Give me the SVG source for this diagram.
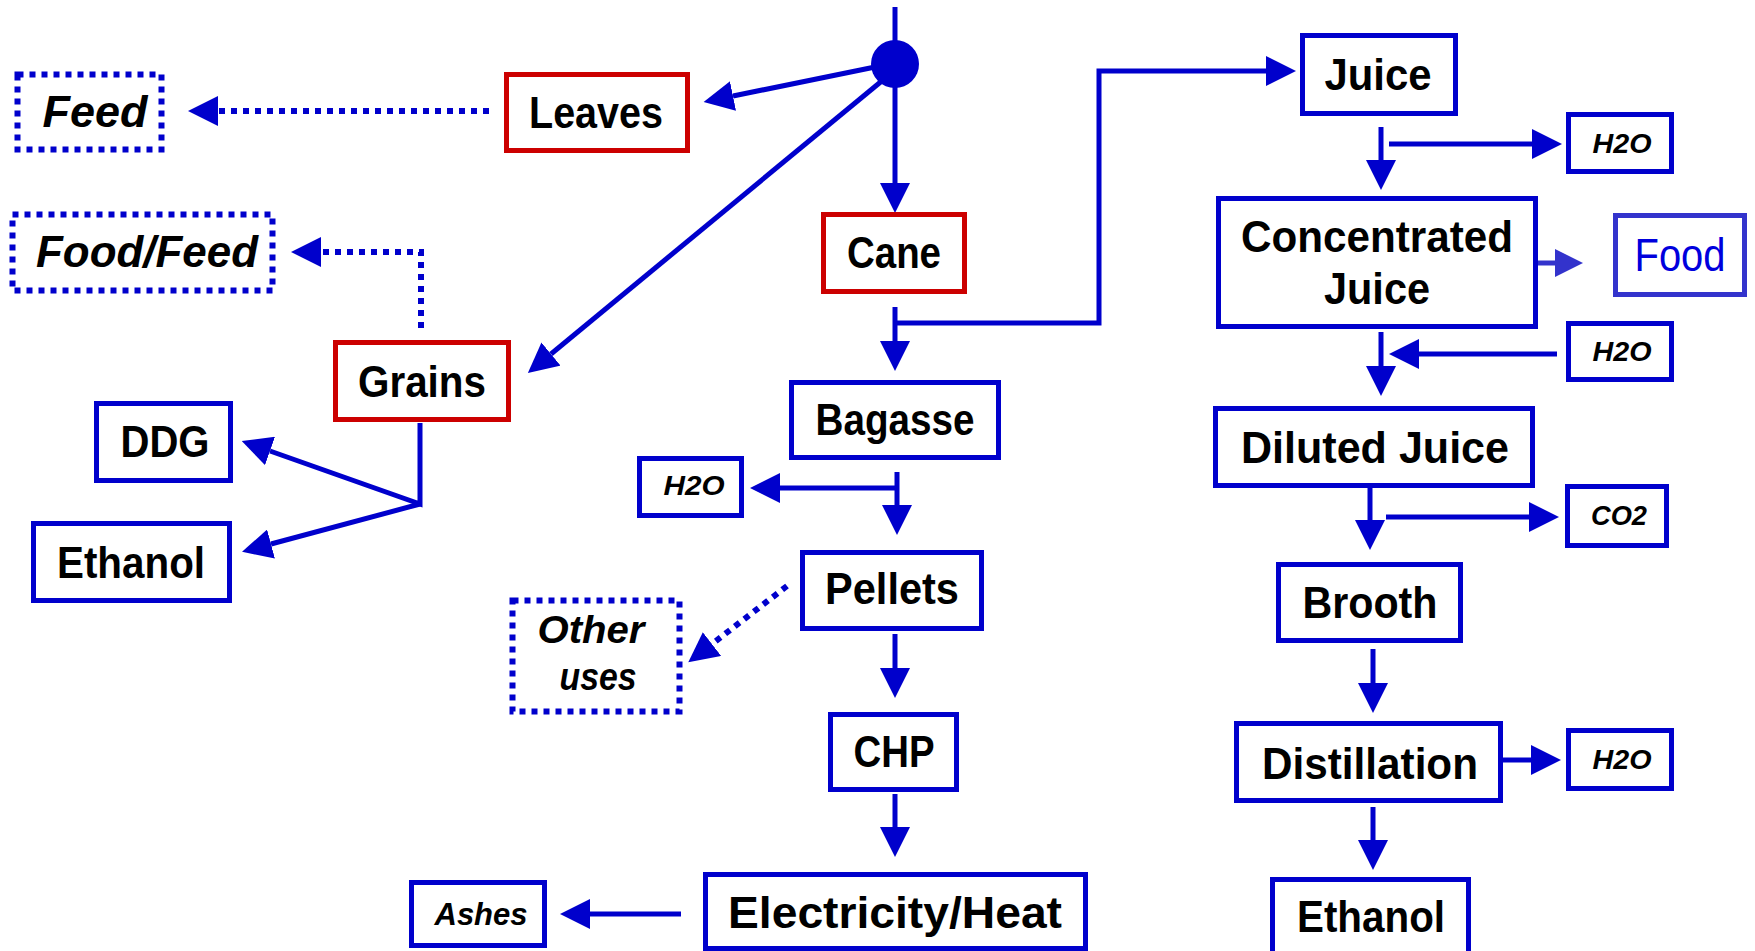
<svg xmlns="http://www.w3.org/2000/svg" width="1755" height="951" viewBox="0 0 1755 951">
<style>
.bg{fill:#ffffff}
.box{fill:#ffffff;stroke:#0000cc;stroke-width:5}
.red{stroke:#cc0000}
.dbox{stroke-dasharray:6 6;stroke-width:6}
.food{stroke:#3333cc}
.t{font-family:"Liberation Sans",Arial,sans-serif;font-weight:bold;font-size:44px;fill:#000000;text-anchor:middle}
.it{font-style:italic}
.sm{font-size:28px}
.md{font-size:38px}
.ft{font-weight:normal;fill:#0000dd;font-size:46px}
.c{fill:none;stroke:#0000cc;stroke-width:5}
.cd{fill:none;stroke:#0000cc;stroke-width:6;stroke-dasharray:6 6}
.cf{fill:none;stroke:#3333cc;stroke-width:5}
</style>
<defs>
<marker id="ah" viewBox="0 0 10 10" refX="0" refY="5" markerWidth="30" markerHeight="30" markerUnits="userSpaceOnUse" orient="auto"><path d="M0,0 L10,5 L0,10 Z" fill="#0000cc"/></marker>
<marker id="ahf" viewBox="0 0 10 10" refX="0" refY="5" markerWidth="28" markerHeight="28" markerUnits="userSpaceOnUse" orient="auto"><path d="M0,0 L10,5 L0,10 Z" fill="#3333cc"/></marker>
</defs>
<rect class="bg" x="0" y="0" width="1755" height="951"/>

<g id="connectors">
<line class="c" x1="895" y1="7" x2="895" y2="64"/>
<line class="c" x1="880" y1="66" x2="733" y2="96" marker-end="url(#ah)"/>
<line class="c" x1="883" y1="80" x2="551" y2="354" marker-end="url(#ah)"/>
<line class="c" x1="895" y1="64" x2="895" y2="183" marker-end="url(#ah)"/>
<line class="c" x1="895" y1="307" x2="895" y2="341" marker-end="url(#ah)"/>
<polyline class="c" points="895,323 1099,323 1099,71 1266,71" marker-end="url(#ah)"/>
<line class="cd" x1="489" y1="111" x2="218" y2="111" marker-end="url(#ah)"/>
<polyline class="cd" points="421,328 421,252 321,252" marker-end="url(#ah)"/>
<polyline class="c" points="420,423 420,504 270,451" marker-end="url(#ah)"/>
<line class="c" x1="420" y1="504" x2="271" y2="544" marker-end="url(#ah)"/>
<line class="c" x1="897" y1="472" x2="897" y2="505" marker-end="url(#ah)"/>
<line class="c" x1="897" y1="488" x2="780" y2="488" marker-end="url(#ah)"/>
<line class="cd" x1="787" y1="586" x2="712" y2="644" marker-end="url(#ah)"/>
<line class="c" x1="895" y1="634" x2="895" y2="668" marker-end="url(#ah)"/>
<line class="c" x1="895" y1="794" x2="895" y2="827" marker-end="url(#ah)"/>
<line class="c" x1="681" y1="914" x2="590" y2="914" marker-end="url(#ah)"/>
<line class="c" x1="1381" y1="127" x2="1381" y2="160" marker-end="url(#ah)"/>
<line class="c" x1="1389" y1="144" x2="1532" y2="144" marker-end="url(#ah)"/>
<line class="cf" x1="1537" y1="263" x2="1555" y2="263" marker-end="url(#ahf)"/>
<line class="c" x1="1381" y1="332" x2="1381" y2="366" marker-end="url(#ah)"/>
<line class="c" x1="1557" y1="354" x2="1419" y2="354" marker-end="url(#ah)"/>
<line class="c" x1="1370" y1="488" x2="1370" y2="520" marker-end="url(#ah)"/>
<line class="c" x1="1386" y1="517" x2="1529" y2="517" marker-end="url(#ah)"/>
<line class="c" x1="1373" y1="649" x2="1373" y2="683" marker-end="url(#ah)"/>
<line class="c" x1="1503" y1="760" x2="1531" y2="760" marker-end="url(#ah)"/>
<line class="c" x1="1373" y1="807" x2="1373" y2="840" marker-end="url(#ah)"/>
</g>

<g id="hub"><circle cx="895" cy="64" r="24" fill="#0000cc"/></g>

<g id="feed"><rect class="box dbox" x="17.5" y="74.5" width="144" height="75"/><text class="t it" x="95" y="127" textLength="105" lengthAdjust="spacingAndGlyphs">Feed</text></g>
<g id="leaves"><rect class="box red" x="506.5" y="74.5" width="181" height="76"/><text class="t" x="596" y="128" textLength="134" lengthAdjust="spacingAndGlyphs">Leaves</text></g>
<g id="food-feed"><rect class="box dbox" x="12.5" y="214.5" width="260" height="76"/><text class="t it" x="147" y="267" textLength="222" lengthAdjust="spacingAndGlyphs">Food/Feed</text></g>
<g id="grains"><rect class="box red" x="335.5" y="342.5" width="173" height="77"/><text class="t" x="422" y="397" textLength="128" lengthAdjust="spacingAndGlyphs">Grains</text></g>
<g id="cane"><rect class="box red" x="823.5" y="214.5" width="141" height="77"/><text class="t" x="894" y="268" textLength="94" lengthAdjust="spacingAndGlyphs">Cane</text></g>
<g id="ddg"><rect class="box" x="96.5" y="403.5" width="134" height="77"/><text class="t" x="165" y="457" textLength="89" lengthAdjust="spacingAndGlyphs">DDG</text></g>
<g id="ethanol-grain"><rect class="box" x="33.5" y="523.5" width="196" height="77"/><text class="t" x="131" y="578" textLength="148" lengthAdjust="spacingAndGlyphs">Ethanol</text></g>
<g id="bagasse"><rect class="box" x="791.5" y="382.5" width="207" height="75"/><text class="t" x="895" y="435" textLength="159" lengthAdjust="spacingAndGlyphs">Bagasse</text></g>
<g id="h2o-bagasse"><rect class="box" x="639.5" y="458.5" width="102" height="57"/><text class="t it sm" x="694" y="495" textLength="61" lengthAdjust="spacingAndGlyphs">H2O</text></g>
<g id="pellets"><rect class="box" x="802.5" y="552.5" width="179" height="76"/><text class="t" x="892" y="604" textLength="134" lengthAdjust="spacingAndGlyphs">Pellets</text></g>
<g id="other-uses"><rect class="box dbox" x="512.5" y="600.5" width="167" height="111"/><text class="t it md" x="591" y="643" textLength="107" lengthAdjust="spacingAndGlyphs">Other</text><text class="t it md" x="598" y="690" textLength="77" lengthAdjust="spacingAndGlyphs">uses</text></g>
<g id="chp"><rect class="box" x="830.5" y="714.5" width="126" height="75"/><text class="t" x="894" y="767" textLength="81" lengthAdjust="spacingAndGlyphs">CHP</text></g>
<g id="electricity-heat"><rect class="box" x="705.5" y="874.5" width="380" height="74"/><text class="t" x="895" y="928" textLength="334" lengthAdjust="spacingAndGlyphs">Electricity/Heat</text></g>
<g id="ashes"><rect class="box" x="411.5" y="882.5" width="133" height="63"/><text class="t it" style="font-size:32px" x="481" y="925" textLength="93" lengthAdjust="spacingAndGlyphs">Ashes</text></g>
<g id="juice"><rect class="box" x="1302.5" y="35.5" width="153" height="78"/><text class="t" x="1378" y="90" textLength="107" lengthAdjust="spacingAndGlyphs">Juice</text></g>
<g id="h2o-1"><rect class="box" x="1568.5" y="114.5" width="103" height="57"/><text class="t it sm" x="1622" y="153" textLength="59" lengthAdjust="spacingAndGlyphs">H2O</text></g>
<g id="concentrated-juice"><rect class="box" x="1218.5" y="198.5" width="317" height="128"/><text class="t" x="1377" y="252" textLength="272" lengthAdjust="spacingAndGlyphs">Concentrated</text><text class="t" x="1377" y="304" textLength="106" lengthAdjust="spacingAndGlyphs">Juice</text></g>
<g id="food"><rect class="box food" x="1615.5" y="215.5" width="129" height="79"/><text class="t ft" x="1680" y="271" textLength="91" lengthAdjust="spacingAndGlyphs">Food</text></g>
<g id="h2o-2"><rect class="box" x="1568.5" y="323.5" width="103" height="56"/><text class="t it sm" x="1622" y="361" textLength="59" lengthAdjust="spacingAndGlyphs">H2O</text></g>
<g id="diluted-juice"><rect class="box" x="1215.5" y="408.5" width="317" height="77"/><text class="t" x="1375" y="463" textLength="268" lengthAdjust="spacingAndGlyphs">Diluted Juice</text></g>
<g id="co2"><rect class="box" x="1567.5" y="486.5" width="99" height="59"/><text class="t it sm" x="1619" y="525" textLength="56" lengthAdjust="spacingAndGlyphs">CO2</text></g>
<g id="brooth"><rect class="box" x="1278.5" y="564.5" width="182" height="76"/><text class="t" x="1370" y="618" textLength="135" lengthAdjust="spacingAndGlyphs">Brooth</text></g>
<g id="distillation"><rect class="box" x="1236.5" y="723.5" width="264" height="77"/><text class="t" x="1370" y="779" textLength="216" lengthAdjust="spacingAndGlyphs">Distillation</text></g>
<g id="h2o-3"><rect class="box" x="1568.5" y="730.5" width="103" height="58"/><text class="t it sm" x="1622" y="769" textLength="59" lengthAdjust="spacingAndGlyphs">H2O</text></g>
<g id="ethanol-cane"><rect class="box" x="1272.5" y="879.5" width="196" height="90"/><text class="t" x="1371" y="932" textLength="148" lengthAdjust="spacingAndGlyphs">Ethanol</text></g>
</svg>
